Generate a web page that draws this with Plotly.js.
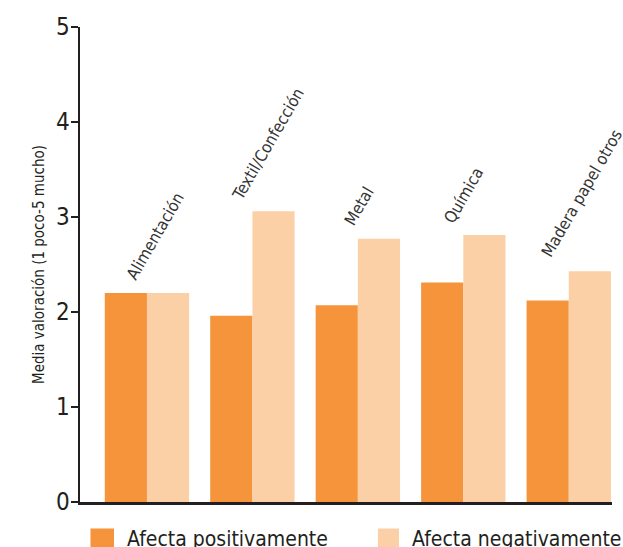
<!DOCTYPE html>
<html>
<head>
<meta charset="utf-8">
<script src="https://cdn.plot.ly/plotly-3.0.1.min.js"></script>
<style>
  html, body { margin: 0; padding: 0; background: #ffffff; }
  #chart { width: 623px; height: 547px; }
</style>
</head>
<body>
<div id="chart"></div>
<script>
// Valoración media por sector
const categories = ['Alimentación', 'Textil/Confección', 'Metal', 'Química', 'Madera papel otros'];
const positivo = [2.2, 1.96, 2.07, 2.31, 2.12];
const negativo = [2.2, 3.06, 2.77, 2.81, 2.43];
const seriesNames = ['Afecta positivamente', 'Afecta negativamente'];
const yTicks = [0, 1, 2, 3, 4, 5];

const FONT = '"DejaVu Sans Condensed", "Liberation Sans Narrow", sans-serif';
const INK = '#231f20';
const ORANGE = '#f5943a';
const PEACH = '#fbd0a6';

const traces = [
  { type: 'bar', name: seriesNames[0], x: categories, y: positivo,
    marker: { color: ORANGE }, hoverinfo: 'x+y' },
  { type: 'bar', name: seriesNames[1], x: categories, y: negativo,
    marker: { color: PEACH }, hoverinfo: 'x+y' }
];

// Small per-label pixel nudges for the rotated sector names
const nudgeX = [0, 0, 7, 1, -7];
const nudgeY = [0, -2, 0, -1, 1];

// Sector names, rotated, sitting above the taller bar of each pair
const sectorLabels = categories.map((c, i) => ({
  x: c, y: Math.max(positivo[i], negativo[i]),
  xref: 'x', yref: 'y',
  text: c, showarrow: false, textangle: -60,
  xanchor: 'left', yanchor: 'bottom',
  xshift: -27 + nudgeX[i], yshift: 7 + nudgeY[i],
  font: { family: FONT, size: 16.5, color: '#333333' }
}));

// Legend drawn below the axis with large swatches
const swatchX = [[0.0197, 0.0639], [0.560, 0.5996]];
const labelX = [0.0846, 0.620];
const swatchColors = [ORANGE, PEACH];
const legendShapes = swatchX.map((sx, i) => ({
  type: 'rect', xref: 'paper', yref: 'paper',
  x0: sx[0], x1: sx[1], y0: -0.0558, y1: -0.11,
  fillcolor: swatchColors[i], line: { width: 0 }
}));
const legendLabels = seriesNames.map((n, i) => ({
  xref: 'paper', yref: 'paper', x: labelX[i], y: -0.0474,
  xanchor: 'left', yanchor: 'top', showarrow: false, text: n,
  font: { family: FONT, size: 21, color: INK }
}));

const layout = {
  width: 623, height: 547,
  margin: { l: 80, r: 11, t: 27, b: 45 },
  paper_bgcolor: '#ffffff', plot_bgcolor: '#ffffff',
  showlegend: false,
  barmode: 'group', bargap: 0.2, bargroupgap: 0,
  font: { family: FONT, color: INK },
  xaxis: {
    type: 'category', range: [-0.635, 4.41],
    showticklabels: false, ticks: '', showgrid: false, zeroline: false,
    showline: true, linecolor: INK, linewidth: 2.5
  },
  yaxis: {
    range: [0, 5], tickvals: yTicks, ticktext: yTicks.map(String),
    ticks: 'outside', ticklen: 7, tickwidth: 2.5, tickcolor: INK,
    ticklabelstandoff: -4,
    showgrid: false, zeroline: false,
    showline: true, linecolor: INK, linewidth: 2.5,
    tickfont: { family: FONT, size: 24, color: INK },
    title: { text: 'Media valoración (1 poco-5 mucho)', standoff: 8,
             font: { family: FONT, size: 15, color: INK } }
  },
  shapes: legendShapes,
  annotations: sectorLabels.concat(legendLabels)
};

Plotly.newPlot('chart', traces, layout, { displayModeBar: false, staticPlot: true });
</script>
</body>
</html>
